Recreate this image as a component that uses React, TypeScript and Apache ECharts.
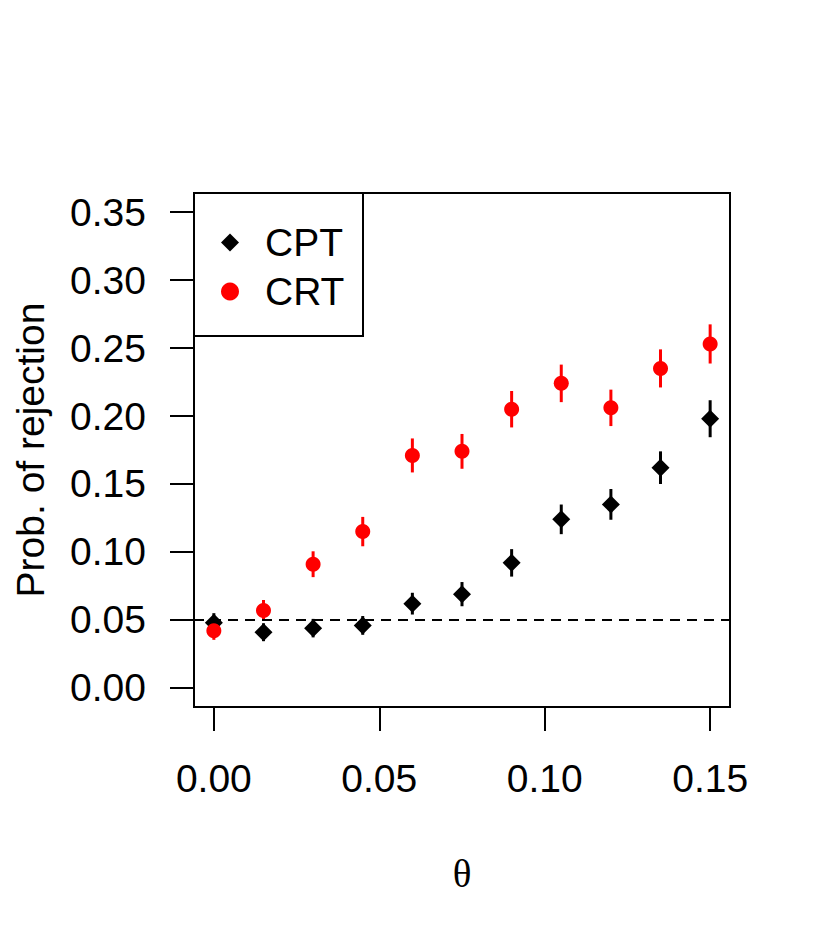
import React, { useEffect, useRef } from "react";
import * as echarts from "echarts";

const thetas = [0, 0.015, 0.03, 0.045, 0.06, 0.075, 0.09, 0.105, 0.12, 0.135, 0.15];
const cptValues = [0.048, 0.041, 0.044, 0.046, 0.062, 0.069, 0.092, 0.124, 0.135, 0.162, 0.198];
const cptErr = [0.007, 0.0066, 0.0068, 0.0069, 0.008, 0.0089, 0.0101, 0.0109, 0.0113, 0.012, 0.0136];
const crtValues = [0.042, 0.057, 0.091, 0.115, 0.171, 0.174, 0.205, 0.224, 0.206, 0.235, 0.253];
const crtErr = [0.0066, 0.0077, 0.0095, 0.0108, 0.0125, 0.0128, 0.0134, 0.0138, 0.0134, 0.014, 0.0144];
const xTicks = [0, 0.05, 0.1, 0.15];
const yTicks = [0, 0.05, 0.1, 0.15, 0.2, 0.25, 0.3, 0.35];
const nominalLevel = 0.05;

const FONT = "'Liberation Sans', Arial, Helvetica, sans-serif";

function errorSeries(name: string, vals: number[], errs: number[], color: string) {
  return {
    type: "custom",
    name: name + "-err",
    silent: true,
    z: 1,
    data: thetas.map((t, i) => [t, vals[i] - errs[i], vals[i] + errs[i]]),
    renderItem: (params: any, api: any) => {
      const p1 = api.coord([api.value(0), api.value(1)]);
      const p2 = api.coord([api.value(0), api.value(2)]);
      return {
        type: "line",
        shape: { x1: p1[0], y1: p1[1], x2: p2[0], y2: p2[1] },
        style: { stroke: color, lineWidth: 3 },
      };
    },
  };
}

export default function App() {
  const ref = useRef<HTMLDivElement>(null);
  useEffect(() => {
    if (!ref.current) return;
    const chart = echarts.init(ref.current, null, { renderer: "svg" });
    chart.setOption({
      animation: false,
      backgroundColor: "#ffffff",
      textStyle: { fontFamily: FONT },
      grid: {
        left: 194,
        top: 193,
        width: 536,
        height: 514,
        show: true,
        borderColor: "#000",
        borderWidth: 2,
        backgroundColor: "transparent",
      },
      legend: {
        orient: "vertical",
        left: 221,
        top: 223,
        padding: 0,
        itemGap: 10,
        itemWidth: 18,
        itemHeight: 18,
        data: ["CPT", "CRT"],
        textStyle: { fontSize: 39, color: "#000", fontFamily: FONT, padding: [0, 0, 0, 21] },
      },
      xAxis: {
        type: "value",
        min: -0.006,
        max: 0.156,
        axisLine: { show: true, onZero: false, lineStyle: { color: "#000", width: 2 } },
        splitLine: { show: false },
        axisTick: {
          show: true,
          inside: false,
          length: 24,
          customValues: xTicks,
          lineStyle: { color: "#000", width: 2 },
        },
        axisLabel: {
          customValues: xTicks,
          formatter: (v: number) => v.toFixed(2),
          fontSize: 39,
          color: "#000",
          fontFamily: FONT,
          margin: 52,
        },
      },
      yAxis: {
        type: "value",
        min: -0.014,
        max: 0.364,
        axisLine: { show: true, onZero: false, lineStyle: { color: "#000", width: 2 } },
        splitLine: { show: false },
        axisTick: {
          show: true,
          inside: false,
          length: 24,
          customValues: yTicks,
          lineStyle: { color: "#000", width: 2 },
        },
        axisLabel: {
          customValues: yTicks,
          formatter: (v: number) => v.toFixed(2),
          fontSize: 39,
          color: "#000",
          fontFamily: FONT,
          margin: 48,
        },
      },
      graphic: [
        {
          type: "rect",
          shape: { x: 194, y: 193, width: 169, height: 143 },
          style: { fill: "transparent", stroke: "#000", lineWidth: 2 },
          z: 10,
        },
        {
          type: "text",
          x: 30,
          y: 450,
          rotation: Math.PI / 2,
          style: {
            text: "Prob. of rejection",
            fontSize: 39,
            fontFamily: FONT,
            fill: "#000",
            align: "center",
            verticalAlign: "middle",
          },
        },
        {
          type: "text",
          x: 462,
          y: 873,
          style: {
            text: "θ",
            fontSize: 39,
            fontFamily: "'Liberation Serif', 'DejaVu Serif', serif",
            fill: "#000",
            align: "center",
            verticalAlign: "middle",
          },
        },
      ],
      series: [
        errorSeries("CPT", cptValues, cptErr, "#000000"),
        errorSeries("CRT", crtValues, crtErr, "#ff0000"),
        {
          type: "scatter",
          name: "CPT",
          symbol: "diamond",
          symbolSize: 18,
          z: 3,
          itemStyle: { color: "#000000", opacity: 1 },
          data: thetas.map((t, i) => [t, cptValues[i]]),
          markLine: {
            silent: true,
            symbol: "none",
            label: { show: false },
            lineStyle: { color: "#000", width: 2, type: [10, 7] },
            data: [{ yAxis: nominalLevel }],
          },
        },
        {
          type: "scatter",
          name: "CRT",
          symbol: "circle",
          symbolSize: 15,
          z: 3,
          itemStyle: { color: "#ff0000", opacity: 1 },
          data: thetas.map((t, i) => [t, crtValues[i]]),
        },
      ],
    });
    return () => chart.dispose();
  }, []);
  return (
    <div
      ref={ref}
      style={{ position: "fixed", left: 0, top: 0, width: 830, height: 949, background: "#fff" }}
    />
  );
}
